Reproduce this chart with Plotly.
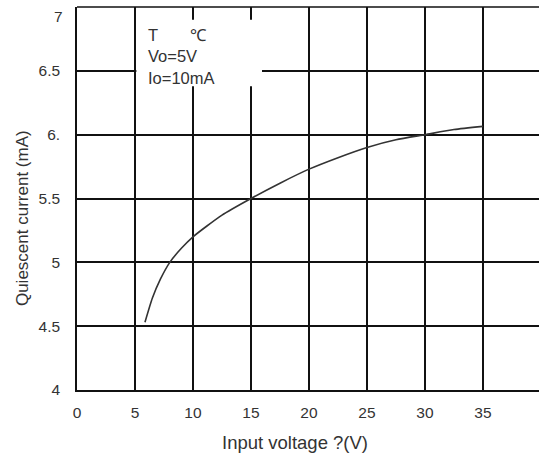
import plotly.graph_objects as go

# Curve data
voltage = [5.86, 6.5, 7.2, 8.0, 9.0, 10, 12.5, 15, 17.5, 20, 22.5, 25, 27.5, 30, 32.5, 35]
current = [4.53, 4.72, 4.87, 5.0, 5.11, 5.2, 5.37, 5.5, 5.62, 5.73, 5.82, 5.90, 5.96, 6.0, 6.04, 6.065]

x_tick_vals = [0, 5, 10, 15, 20, 25, 30, 35, 40]
x_tick_text = ["0", "5", "10", "15", "20", "25", "30", "35", ""]
y_tick_vals = [4, 4.5, 5, 5.5, 6, 6.5, 7]
y_tick_text = ["4", "4.5", "5", "5.5", "6.", "6.5", "7"]

conditions = ["T&nbsp;&nbsp;&nbsp;&nbsp;&nbsp;&nbsp;&nbsp;℃", "Vo=5V", "Io=10mA"]

FONT = "Liberation Sans, Arial, sans-serif"
TXT = "#333333"
LINE = "#111111"

fig = go.Figure()
fig.add_trace(go.Scatter(
    x=voltage, y=current, mode="lines",
    line=dict(color="#333333", width=1.6, shape="spline", smoothing=0.6),
    hoverinfo="skip", showlegend=False,
))

# top border line
fig.add_shape(type="line", xref="paper", yref="paper", x0=0, x1=1, y0=1, y1=1,
              line=dict(color=LINE, width=1.6), layer="above")

# white box behind the condition text
fig.add_shape(type="rect", xref="x", yref="y", x0=5.12, x1=15.95, y0=6.38, y1=6.9,
              fillcolor="white", line=dict(width=0), layer="above")

fig.add_annotation(
    xref="x", yref="y", x=5.95, y=6.87, xanchor="left", yanchor="top",
    text="<br>".join(conditions), showarrow=False, align="left",
    font=dict(family=FONT, size=16.5, color=TXT),
)

# the top tick label sits a little below its line in the reference
fig.add_annotation(
    xref="paper", yref="paper", x=-0.026, y=0.974,
    xanchor="right", yanchor="middle",
    text=y_tick_text[-1], showarrow=False,
    font=dict(family=FONT, size=15.5, color=TXT),
)

fig.add_annotation(
    xref="paper", yref="paper", x=-0.119, y=0.449, textangle=-90,
    xanchor="center", yanchor="middle",
    text="Quiescent current (mA)", showarrow=False,
    font=dict(family=FONT, size=17, color=TXT),
)
fig.add_annotation(
    xref="paper", yref="paper", x=0.472, y=-0.136,
    xanchor="center", yanchor="middle",
    text="Input voltage ?(V)", showarrow=False,
    font=dict(family=FONT, size=18.5, color=TXT),
)

fig.update_layout(
    width=539, height=454,
    margin=dict(l=77, r=0, t=7, b=64, autoexpand=False),
    paper_bgcolor="white", plot_bgcolor="white",
    font=dict(family=FONT, size=15.5, color=TXT),
    showlegend=False,
)
fig.update_xaxes(
    range=[0, 39.83], tickvals=x_tick_vals, ticktext=x_tick_text,
    showgrid=True, gridcolor=LINE, gridwidth=1.6,
    showline=True, linecolor=LINE, linewidth=1.6,
    ticks="", ticklabelstandoff=8, zeroline=False, automargin=False,
    ticklabeloverflow="allow",
)
fig.update_yaxes(
    range=[4, 7], tickvals=y_tick_vals[:-1], ticktext=y_tick_text[:-1],
    showgrid=True, gridcolor=LINE, gridwidth=1.6,
    showline=True, linecolor=LINE, linewidth=1.6,
    ticks="", ticklabelstandoff=12, zeroline=False, automargin=False,
    ticklabeloverflow="allow",
)

# remove the default 8px page margin so the figure sits at the window origin
fig.write_html("out.html", config={"displayModeBar": False},
               post_script="document.body.style.margin='0';")
